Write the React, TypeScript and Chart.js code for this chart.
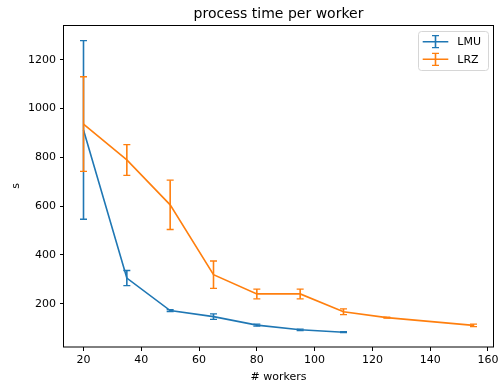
import React, { useEffect, useRef } from "react";
import { Chart, registerables } from "chart.js";

Chart.register(...registerables);

const TITLE = "process time per worker";
const X_LABEL = "# workers";
const Y_LABEL = "s";

const LMU_X = [20, 35, 50, 65, 80, 95, 110];
const LMU_Y = [912, 305, 172, 147, 112, 93, 83];
const LMU_ERR = [366, 31, 4, 11, 4, 3, 2];

const LRZ_X = [20, 35, 50, 65, 80, 95, 110, 125, 155];
const LRZ_Y = [936, 789, 605, 319, 240, 240, 167, 143, 111];
const LRZ_ERR = [194, 63, 101, 56, 20, 20, 12, 2, 5];

const X_TICKS = [20, 40, 60, 80, 100, 120, 140, 160];
const Y_TICKS = [200, 400, 600, 800, 1000, 1200];

const BLUE = "#1f77b4";
const ORANGE = "#ff7f0e";
const FONT = "'DejaVu Sans', sans-serif";

const SERIES = [
  { name: "LMU", xs: LMU_X, ys: LMU_Y, errs: LMU_ERR, color: BLUE },
  { name: "LRZ", xs: LRZ_X, ys: LRZ_Y, errs: LRZ_ERR, color: ORANGE },
];

function drawErrIcon(ctx: CanvasRenderingContext2D, x0: number, x1: number, y: number, color: string) {
  const xm = (x0 + x1) / 2;
  ctx.save();
  ctx.strokeStyle = color;
  ctx.lineWidth = 1.6;
  ctx.beginPath();
  ctx.moveTo(x0, y);
  ctx.lineTo(x1, y);
  ctx.moveTo(xm, y - 6);
  ctx.lineTo(xm, y + 6);
  ctx.stroke();
  ctx.lineWidth = 1.3;
  ctx.beginPath();
  ctx.moveTo(xm - 3.5, y - 6);
  ctx.lineTo(xm + 3.5, y - 6);
  ctx.moveTo(xm - 3.5, y + 6);
  ctx.lineTo(xm + 3.5, y + 6);
  ctx.stroke();
  ctx.restore();
}

const decorPlugin = {
  id: "decor",
  afterDatasetDraw(chart: any, args: any) {
    const s = SERIES[args.index];
    if (!s) return;
    const ctx = chart.ctx as CanvasRenderingContext2D;
    const xs = chart.scales.x;
    const ys = chart.scales.y;
    ctx.save();
    ctx.strokeStyle = s.color;
    s.xs.forEach((xv, i) => {
      const px = xs.getPixelForValue(xv);
      const top = ys.getPixelForValue(s.ys[i] + s.errs[i]);
      const bot = ys.getPixelForValue(s.ys[i] - s.errs[i]);
      ctx.lineWidth = 1.6;
      ctx.beginPath();
      ctx.moveTo(px, top);
      ctx.lineTo(px, bot);
      ctx.stroke();
      ctx.lineWidth = 1.3;
      ctx.beginPath();
      ctx.moveTo(px - 3.5, top);
      ctx.lineTo(px + 3.5, top);
      ctx.moveTo(px - 3.5, bot);
      ctx.lineTo(px + 3.5, bot);
      ctx.stroke();
    });
    ctx.restore();
  },
  afterDraw(chart: any) {
    const ctx = chart.ctx as CanvasRenderingContext2D;
    const a = chart.chartArea;
    ctx.save();
    // frame
    ctx.strokeStyle = "#000";
    ctx.lineWidth = 1;
    ctx.strokeRect(Math.round(a.left) - 0.5, Math.round(a.top) + 0.5, Math.round(a.right - a.left) + 1, Math.round(a.bottom - a.top) - 0.5);
    // title
    const cx = (a.left + a.right) / 2;
    ctx.fillStyle = "#000";
    ctx.textAlign = "center";
    ctx.textBaseline = "alphabetic";
    ctx.font = `14px ${FONT}`;
    ctx.fillText(TITLE, cx, 18);
    ctx.font = `11px ${FONT}`;
    ctx.fillText(X_LABEL, cx, 380);
    ctx.save();
    ctx.translate(18.5, (a.top + a.bottom) / 2);
    ctx.rotate(-Math.PI / 2);
    ctx.fillText(Y_LABEL, 0, 0);
    ctx.restore();
    // legend
    const lx = 418.5, ly = 31.5, lw = 70, lh = 39, r = 3;
    ctx.beginPath();
    ctx.moveTo(lx + r, ly);
    ctx.lineTo(lx + lw - r, ly);
    ctx.quadraticCurveTo(lx + lw, ly, lx + lw, ly + r);
    ctx.lineTo(lx + lw, ly + lh - r);
    ctx.quadraticCurveTo(lx + lw, ly + lh, lx + lw - r, ly + lh);
    ctx.lineTo(lx + r, ly + lh);
    ctx.quadraticCurveTo(lx, ly + lh, lx, ly + lh - r);
    ctx.lineTo(lx, ly + r);
    ctx.quadraticCurveTo(lx, ly, lx + r, ly);
    ctx.closePath();
    ctx.fillStyle = "rgba(255,255,255,0.8)";
    ctx.fill();
    ctx.strokeStyle = "#d6d6d6";
    ctx.lineWidth = 1;
    ctx.stroke();
    SERIES.forEach((s, i) => {
      const y = 41.7 + i * 17.6;
      drawErrIcon(ctx, 422.7, 448.3, y, s.color);
      ctx.fillStyle = "#000";
      ctx.textAlign = "left";
      ctx.textBaseline = "middle";
      ctx.font = `11px ${FONT}`;
      ctx.fillText(s.name, 457.3, y + 0.5);
    });
    ctx.restore();
  },
};

export default function App() {
  const ref = useRef<HTMLCanvasElement | null>(null);
  useEffect(() => {
    document.body.style.margin = "0";
    const canvas = ref.current;
    if (!canvas) return;
    const chart = new Chart(canvas, {
      type: "line",
      data: {
        datasets: SERIES.map((s, i) => ({
          label: s.name,
          data: s.xs.map((x, j) => ({ x, y: s.ys[j] })),
          borderColor: s.color,
          backgroundColor: s.color,
          borderWidth: 1.6,
          pointRadius: 0,
          pointHoverRadius: 0,
          tension: 0,
          fill: false,
          order: 2 - i,
        })),
      },
      options: {
        animation: false,
        responsive: false,
        devicePixelRatio: 1,
        events: [],
        layout: { padding: { top: 25, right: 9, bottom: 0, left: 0 } },
        plugins: {
          legend: { display: false },
          title: { display: false },
          tooltip: { enabled: false },
        },
        scales: {
          x: {
            type: "linear",
            min: 13.25,
            max: 161.75,
            afterFit: (scale: any) => {
              scale.height = 36;
            },
            afterBuildTicks: (scale: any) => {
              scale.ticks = X_TICKS.map((v) => ({ value: v }));
            },
            grid: { drawOnChartArea: false, drawTicks: true, tickLength: 4, tickColor: "#000", tickWidth: 1 },
            border: { display: false },
            ticks: {
              color: "#000",
              font: { family: FONT, size: 11 },
              padding: 3,
              maxRotation: 0,
              autoSkip: false,
              callback: (v: any) => String(v),
            },
          },
          y: {
            type: "linear",
            min: 22.5,
            max: 1342,
            afterFit: (scale: any) => {
              scale.width = 64;
            },
            afterBuildTicks: (scale: any) => {
              scale.ticks = Y_TICKS.map((v) => ({ value: v }));
            },
            grid: { drawOnChartArea: false, drawTicks: true, tickLength: 4, tickColor: "#000", tickWidth: 1 },
            border: { display: false },
            ticks: {
              color: "#000",
              font: { family: FONT, size: 11 },
              padding: 4,
              autoSkip: false,
              callback: (v: any) => String(v),
            },
          },
        },
      },
      plugins: [decorPlugin],
    } as any);
    return () => chart.destroy();
  }, []);
  return (
    <div style={{ position: "fixed", left: 0, top: 0, width: 502, height: 383, background: "#fff" }}>
      <canvas ref={ref} width={502} height={383} style={{ display: "block", width: 502, height: 383 }} />
    </div>
  );
}
